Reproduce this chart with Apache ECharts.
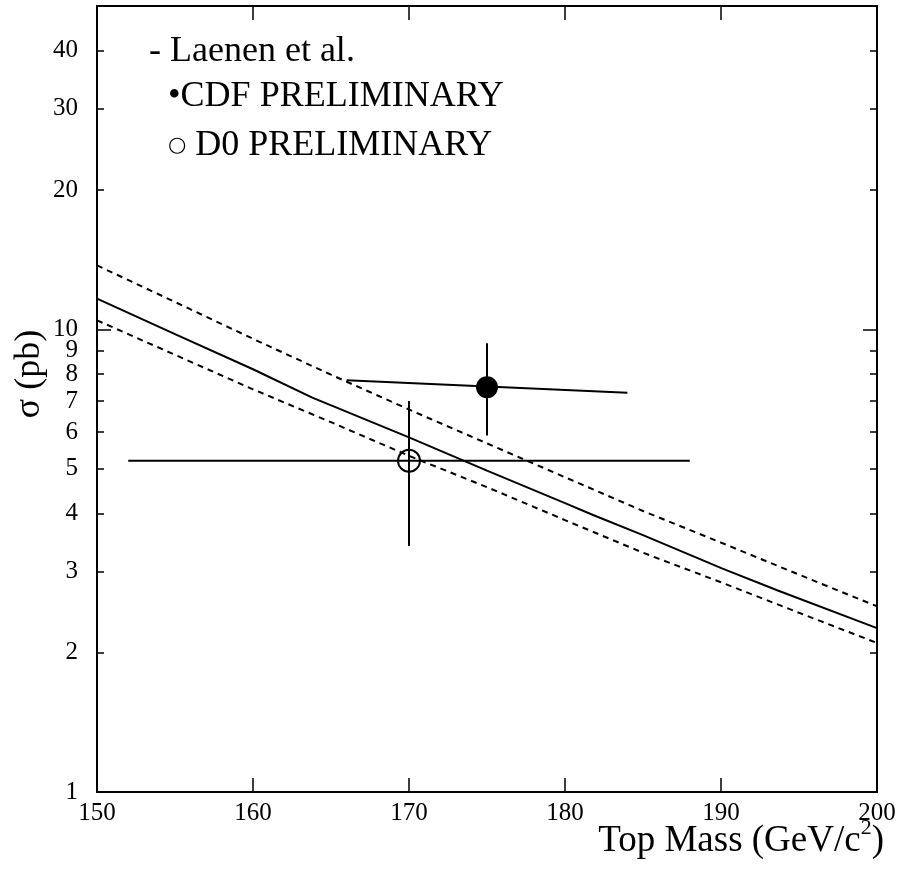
<!DOCTYPE html>
<html>
<head>
<meta charset="utf-8">
<script src="https://cdn.jsdelivr.net/npm/echarts@6/dist/echarts.min.js"></script>
<style>
  html, body { margin: 0; padding: 0; background: #fff; }
  #chart { width: 903px; height: 877px; }
</style>
</head>
<body>
<div id="chart"></div>
<script>
// Theory band (Laenen et al.): central value and upper/lower limits, sigma in pb vs top mass in GeV/c^2
const centralMass  = [150, 155, 160, 163.8, 170, 175, 180, 181.8, 185, 190.1, 193.6, 200];
const centralXsec  = [11.65, 9.77, 8.20, 7.12, 5.84, 4.95, 4.21, 3.97, 3.59, 3.04, 2.73, 2.26];
const upperMass    = [150, 155, 160, 165, 170, 175, 180, 185, 190, 195, 200];
const upperXsec    = [13.75, 11.46, 9.54, 7.98, 6.71, 5.67, 4.79, 4.05, 3.46, 2.95, 2.52];
const lowerMass    = [150, 155, 160, 165, 170, 175, 180, 185, 190, 195, 200];
const lowerXsec    = [10.46, 8.81, 7.42, 6.30, 5.33, 4.56, 3.87, 3.29, 2.84, 2.44, 2.10];

// Measurements
const cdfPoint   = [175, 7.5];
const cdfMassBar = [[166, 7.76], [184, 7.29]];
const cdfXsecBar = [[175, 5.9], [175, 9.33]];
const d0Point    = [170, 5.2];
const d0MassBar  = [[152, 5.2], [188, 5.2]];
const d0XsecBar  = [[170, 3.4], [170, 7.0]];

// Axis ticks and labels
const massTicks     = [150, 160, 170, 180, 190, 200];
const xsecLabels    = [1, 2, 3, 4, 5, 6, 7, 8, 9, 10, 20, 30, 40];
const xsecMinorTick = [2, 3, 4, 5, 6, 7, 8, 9, 20, 30, 40];
const xsecMajorTick = [10];

const legendLines = ['- Laenen et al.', '•CDF PRELIMINARY', '{o|○} D0 PRELIMINARY'];

const serif = 'Liberation Serif, Times New Roman, serif';
const black = '#000';

const zip = (xs, ys) => xs.map((x, i) => [x, ys[i]]);

const chart = echarts.init(document.getElementById('chart'), null, { renderer: 'canvas' });

const baseX = {
  type: 'value', min: 150, max: 200, interval: 10,
  axisLine: { show: true, onZero: false, lineStyle: { color: black, width: 2 } },
  axisTick: { show: true, inside: true, length: 14, lineStyle: { color: black, width: 1.5 } },
  splitLine: { show: false }
};

const baseY = {
  type: 'log', logBase: 10, min: 1, max: 50,
  axisLine: { show: true, onZero: false, lineStyle: { color: black, width: 2 } },
  splitLine: { show: false }
};

const option = {
  animation: false,
  backgroundColor: '#fff',
  grid: { left: 97, right: 26, top: 6, bottom: 85, containLabel: false },
  xAxis: [
    Object.assign({}, baseX, {
      position: 'bottom',
      axisLabel: { show: true, margin: 9, fontFamily: serif, fontSize: 25, color: black,
        customValues: massTicks }
    }),
    Object.assign({}, baseX, { position: 'top', axisLabel: { show: false } })
  ],
  yAxis: [
    Object.assign({}, baseY, {
      position: 'left',
      axisTick: { show: true, inside: true, length: 7, customValues: xsecMinorTick,
        lineStyle: { color: black, width: 1.5 } },
      axisLabel: { show: true, margin: 19, fontFamily: serif, fontSize: 25, color: black,
        customValues: xsecLabels }
    }),
    Object.assign({}, baseY, {
      position: 'right',
      axisTick: { show: true, inside: true, length: 7, customValues: xsecMinorTick,
        lineStyle: { color: black, width: 1.5 } },
      axisLabel: { show: false }
    }),
    Object.assign({}, baseY, {
      position: 'left', offset: 0,
      axisLine: { show: false },
      axisTick: { show: true, inside: true, length: 14, customValues: xsecMajorTick,
        lineStyle: { color: black, width: 1.5 } },
      axisLabel: { show: false }
    }),
    Object.assign({}, baseY, {
      position: 'right', offset: 0,
      axisLine: { show: false },
      axisTick: { show: true, inside: true, length: 14, customValues: xsecMajorTick,
        lineStyle: { color: black, width: 1.5 } },
      axisLabel: { show: false }
    })
  ],
  series: [
    { name: 'central', type: 'line', data: zip(centralMass, centralXsec), symbol: 'none',
      lineStyle: { color: black, width: 2 }, z: 2 },
    { name: 'upper', type: 'line', data: zip(upperMass, upperXsec), symbol: 'none',
      lineStyle: { color: black, width: 2, type: [6, 5] }, z: 2 },
    { name: 'lower', type: 'line', data: zip(lowerMass, lowerXsec), symbol: 'none',
      lineStyle: { color: black, width: 2, type: [6, 5] }, z: 2 },

    { name: 'cdf-mass', type: 'line', data: cdfMassBar, symbol: 'none',
      lineStyle: { color: black, width: 2 }, z: 3 },
    { name: 'cdf-xsec', type: 'line', data: cdfXsecBar, symbol: 'none',
      lineStyle: { color: black, width: 2 }, z: 3 },
    { name: 'CDF', type: 'scatter', data: [cdfPoint], symbol: 'circle', symbolSize: 22,
      itemStyle: { color: black, opacity: 1 }, emphasis: { disabled: true }, z: 4 },

    { name: 'd0-mass', type: 'line', data: d0MassBar, symbol: 'none',
      lineStyle: { color: black, width: 2 }, z: 3 },
    { name: 'd0-xsec', type: 'line', data: d0XsecBar, symbol: 'none',
      lineStyle: { color: black, width: 2 }, z: 3 },
    { name: 'D0', type: 'scatter', data: [d0Point], symbol: 'circle', symbolSize: 22,
      itemStyle: { color: 'rgba(0,0,0,0)', borderColor: black, borderWidth: 2, opacity: 1 },
      emphasis: { disabled: true }, z: 4 }
  ],
  graphic: [
    { type: 'text', x: 149, y: 52,
      style: { text: legendLines[0], font: '36px ' + serif, fill: black,
        align: 'left', verticalAlign: 'middle' } },
    { type: 'text', x: 168, y: 97,
      style: { text: legendLines[1], font: '36px ' + serif, fill: black,
        align: 'left', verticalAlign: 'middle' } },
    { type: 'text', x: 168, y: 146,
      style: { text: legendLines[2], font: '36px ' + serif, fill: black,
        align: 'left', verticalAlign: 'middle',
        rich: { o: { fontFamily: 'DejaVu Sans', fontSize: 21, fill: black } } } },
    { type: 'text', x: 884, y: 841,
      style: { text: '{t|Top Mass (GeV/c}{s|2}{t|)}', fill: black,
        align: 'right', verticalAlign: 'middle',
        rich: {
          t: { fontFamily: serif, fontSize: 37, fill: black, lineHeight: 48 },
          s: { fontFamily: serif, fontSize: 22, fill: black, verticalAlign: 'top', lineHeight: 22 }
        } } },
    { type: 'text', x: 30, y: 374, rotation: Math.PI / 2,
      style: { text: 'σ (pb)', font: '36px ' + serif, fill: black,
        align: 'center', verticalAlign: 'middle' } }
  ]
};

chart.setOption(option);
</script>
</body>
</html>
